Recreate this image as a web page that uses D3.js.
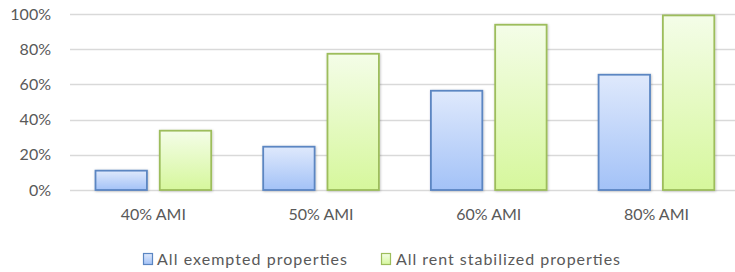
<!DOCTYPE html>
<html><head><meta charset="utf-8">
<script src="https://cdn.jsdelivr.net/npm/d3@7"></script>
<style>body{margin:0;background:#fff}svg{display:block;font-family:Lato,"Open Sans",sans-serif}</style>
</head><body><svg id="c" width="735" height="272"></svg>
<script>
const categories = ["40% AMI","50% AMI","60% AMI","80% AMI"];
const seriesNames = ["All exempted properties","All rent stabilized properties"];
const exempted = [0.11, 0.246, 0.564, 0.655];
const stabilized = [0.337, 0.774, 0.939, 0.992];
const yTicks = [0,0.2,0.4,0.6,0.8,1.0];

const svg = d3.select("#c");
const defs = svg.append("defs");
const grads = [["gBlue","#dfe9fc","#a3c2f7"],["gGreen","#f4fde8","#d6f79c"]];
grads.forEach(([id,a,b])=>{
  const g = defs.append("linearGradient").attr("id",id).attr("x1",0).attr("y1",0).attr("x2",0).attr("y2",1);
  g.append("stop").attr("offset","0%").attr("stop-color",a);
  g.append("stop").attr("offset","100%").attr("stop-color",b);
});
const f = defs.append("filter").attr("id","sh").attr("x","-20%").attr("y","-20%").attr("width","140%").attr("height","140%");
f.append("feDropShadow").attr("dx",0.6).attr("dy",0.6).attr("stdDeviation",0.8).attr("flood-color","#000").attr("flood-opacity",0.25);

const x = d3.scaleBand().domain(categories).range([69.5, 740.3]).paddingInner(0.31).paddingOuter(0.155);
const xs = d3.scaleBand().domain([0,1]).range([0, x.bandwidth()]).paddingInner(0.2);
const y = d3.scaleLinear().domain([0,1]).range([190,14]);

// grid
svg.append("g").selectAll("line").data(yTicks).join("line")
  .attr("x1",70).attr("x2",735).attr("y1",d=>Math.round(y(d))+0.5).attr("y2",d=>Math.round(y(d))+0.5)
  .attr("stroke","#d9d9d9").attr("stroke-width",1.3);

// y labels
const yAxis = d3.axisLeft(y).tickValues(yTicks).tickFormat(d3.format(".0%")).tickSize(0).tickPadding(0);
const ya = svg.append("g").attr("transform","translate(51,0)").call(yAxis);
ya.select(".domain").remove();
ya.selectAll("text").attr("fill","#595959").attr("font-size",16).attr("font-family","Lato, sans-serif");

const series = [exempted, stabilized];
const strokes = ["#5b86c2","#9dbd5c"];
const fills = ["url(#gBlue)","url(#gGreen)"];
series.forEach((vals,si)=>{
  svg.append("g").selectAll("rect").data(vals).join("rect")
    .attr("x",(d,i)=>x(categories[i])+xs(si))
    .attr("y",d=>y(d))
    .attr("width",xs.bandwidth())
    .attr("height",d=>y(0)-y(d))
    .attr("fill",fills[si]).attr("stroke",strokes[si]).attr("stroke-width",1.8)
    .attr("filter","url(#sh)");
});

// x labels
const xAxis = d3.axisBottom(x).tickSize(0).tickPadding(0);
const xa = svg.append("g").attr("transform","translate(0,220)").call(xAxis);
xa.select(".domain").remove();
xa.selectAll("text").attr("dy",0).attr("fill","#595959").attr("font-size",16).attr("font-family","Lato, sans-serif");

// legend
const leg = [{x:143,tx:157,w:190}, {x:381,tx:396,w:224}];
seriesNames.forEach((n,i)=>{
  svg.append("rect").attr("x",leg[i].x+0.5).attr("y",253.5).attr("width",9).attr("height",11)
    .attr("fill",fills[i]).attr("stroke",strokes[i]).attr("stroke-width",1.2);
  svg.append("text").attr("x",leg[i].tx).attr("y",265).attr("fill","#595959").attr("font-size",16)
    .attr("textLength",leg[i].w).attr("lengthAdjust","spacing")
    .text(n);
});
</script></body></html>
